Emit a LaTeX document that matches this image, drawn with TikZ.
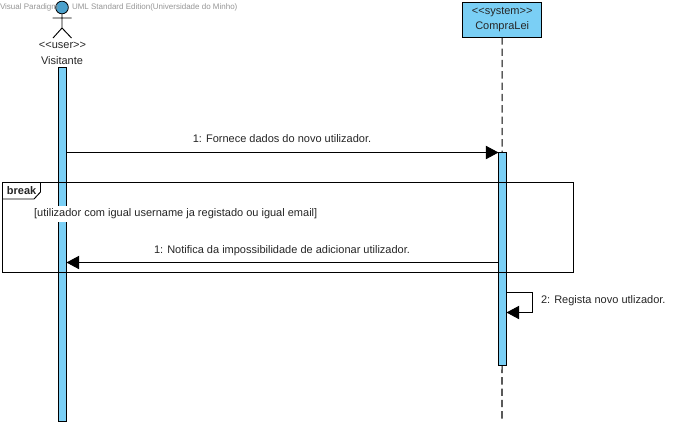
\documentclass[tikz,border=0pt]{standalone}
\usepackage{fontspec}
\setmainfont{Liberation Sans}
\usetikzlibrary{arrows.meta}
\definecolor{vpblue}{RGB}{122,207,245}
\definecolor{vphead}{RGB}{90,190,240}
\definecolor{vpgrey}{RGB}{150,150,150}
\newcommand{\ltlt}{\textless\kern0pt\textless}
\newcommand{\gtgt}{\textgreater\kern0pt\textgreater}
\tikzset{
 x=0.75pt,y=-0.75pt,
 every node/.style={inner sep=0pt,outer sep=0pt},
 lab/.style={font=\fontsize{8.25}{10}\selectfont,text=black!85},
 bar/.style={draw=black,fill=vpblue,line width=0.6pt,minimum width=6pt,anchor=north},
 msg/.style={draw=black,line width=0.7pt,-{Triangle[length=9.5pt,width=10pt]},shorten >=0pt},
 lifeline/.style={draw=black,line width=0.8pt,dash pattern=on 5.5pt off 3pt},
}
\begin{document}
\begin{tikzpicture}
\useasboundingbox (0,0) rectangle (680,426);
\fill[white] (0,0) rectangle (680,426);
% lifelines
\node[draw=black,fill=vpblue,line width=0.7pt,minimum width=59.5pt,minimum height=26pt,anchor=north west,align=center,text=black!85,font=\fontsize{8.25}{11.5}\selectfont] (sys) at (462.5,2.5) {\ltlt system\gtgt\\CompraLei};
\coordinate (sysend) at (502,421);
\draw[lifeline] (sys.south) -- (sysend);
% activations
\node[bar,minimum height=265.5pt] (act1) at (62.5,67) {};
\node[bar,minimum height=160pt] (act2) at (502.5,152) {};
% actor
\node[circle,draw=black,fill=vphead!85!black,line width=0.6pt,minimum size=9.5pt] (head) at (62,7.5) {};
\coordinate (hip) at (62,28);
\coordinate (armL) at (52.5,18);
\coordinate (armR) at (71.5,18);
\coordinate (footL) at (53,38);
\coordinate (footR) at (71.5,38);
\draw[line width=0.7pt] (head.south) -- (hip) (armL) -- (armR) (footL) -- (hip) -- (footR);
\node[lab] (st) at (62.5,45.5) {\ltlt user\gtgt};
\node[lab] (vis) at (62,60.5) {Visitante};
% watermark
\node[anchor=west,font=\fontsize{6}{7}\selectfont,text=vpgrey] (wm1) at (0,7) {Visual Paradigm};
\node[anchor=west,font=\fontsize{6}{7}\selectfont,text=vpgrey] (wm2) at (72,7) {UML Standard Edition(Universidade do Minho)};
% fragment
\node[draw=black,line width=0.7pt,minimum width=428.25pt,minimum height=67.5pt,anchor=north west] (frame) at (2.5,182.5) {};
\coordinate (tabA) at (40.5,182.5);
\coordinate (tabB) at (40.5,192);
\coordinate (tabC) at (34,199);
\coordinate (tabD) at (2.5,199);
\draw[line width=0.7pt,fill=white] (tabA) -- (tabB) -- (tabC) -- (tabD) -- (2.5,182.5) -- cycle;
\node[lab,font=\fontsize{8.25}{10}\bfseries\selectfont,anchor=west] (brk) at (7,190.5) {break};
\node[lab,fill=white,anchor=west,inner xsep=0.5pt,minimum height=12pt] (guard) at (33.5,214) {[utilizador com igual username ja registado ou igual email]};
% messages
\coordinate (m1s) at (66.5,152.5);
\coordinate (m1e) at (498.5,152.5);
\draw[msg] (m1s) -- (m1e);
\node[lab] (l1) at (282,139) {1: Fornece dados do novo utilizador.};
\coordinate (m2s) at (498.5,262.5);
\coordinate (m2e) at (66.5,262.5);
\draw[msg] (m2s) -- (m2e);
\node[lab] (l2) at (282,251) {1: Notifica da impossibilidade de adicionar utilizador.};
\coordinate (m3s) at (506.5,292.5);
\coordinate (m3a) at (532.5,292.5);
\coordinate (m3b) at (532.5,312.5);
\coordinate (m3e) at (506.5,312.5);
\draw[msg] (m3s) -- (m3a) -- (m3b) -- (m3e);
\node[lab,anchor=west] (l3) at (541,300.5) {2: Regista novo utlizador.};
\end{tikzpicture}
\end{document}
